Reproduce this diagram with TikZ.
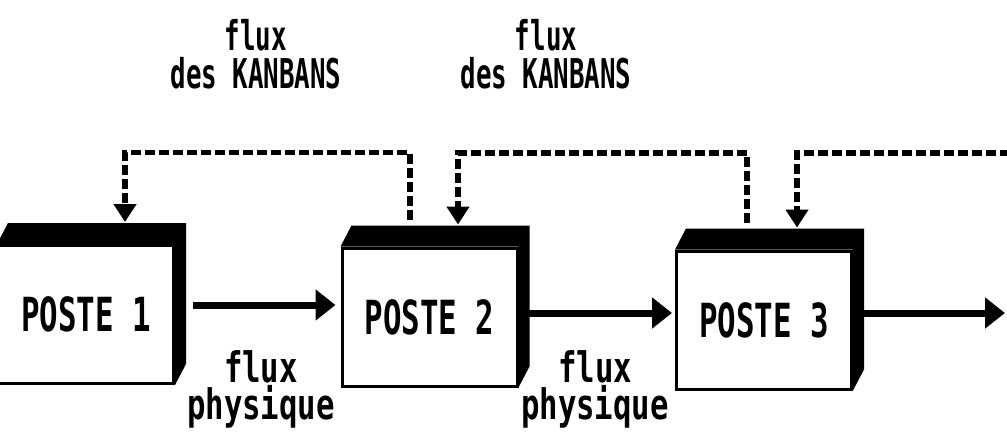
\documentclass[tikz,border=0pt]{standalone}
\usepackage{fontspec}
\newfontfamily\topfont{DejaVu Sans Mono}[FakeStretch=0.63]
\newfontfamily\botfont{DejaVu Sans Mono}[FakeStretch=0.73]
\newfontfamily\postefont{DejaVu Sans Mono}[FakeStretch=0.655]
\usetikzlibrary{arrows.meta,calc}
\begin{document}
\begin{tikzpicture}[x=1pt,y=-1pt,
  poste/.style={draw,line width=3pt,minimum width=175pt,minimum height=138pt,inner sep=0pt,
    font=\postefont\bfseries\fontsize{47}{47}\selectfont},
  flow/.style={line width=7pt,-{Triangle[length=20pt,width=30pt]}},
  kanban/.style={line width=5.5pt,dash pattern=on 10pt off 4pt,-{Triangle[length=18pt,width=22pt]}},
  lbltop/.style={font=\topfont\bfseries\fontsize{41}{38}\selectfont,align=center,inner sep=0pt,anchor=north},
  lblbot/.style={font=\botfont\bfseries\fontsize{42}{37}\selectfont,align=center,inner sep=0pt,anchor=north}
]
\useasboundingbox (0,0) rectangle (1007,442);
\clip (0,0) rectangle (1007,442);

% stations
\node[poste] (p1) at (86,314.5) {POSTE 1};
\node[poste] (p2) at (429.5,317) {POSTE 2};
\node[poste] (p3) at (764,320) {POSTE 3};
\foreach \p in {p1,p2,p3}
  \fill (\p.north west) -- ($(\p.north west)+(11,-21)$) -- ($(\p.north east)+(11,-21)$)
        -- ($(\p.south east)+(11,-21)$) -- (\p.south east) -- (\p.north east) -- cycle;

% physical flow
\coordinate (out3) at (1005,313);
\draw[flow] ($(p1.east)+(18,-9.5)$) -- ($(p2.west)+(-5,-12)$);
\draw[flow] ($(p2.east)+(10,-4)$) -- ($(p3.west)+(-3,-7)$);
\draw[flow] ($(p3.east)+(10,-7)$) -- (out3);

% kanban flow
\coordinate (in3) at (1010,153);
\draw[kanban] ($(p2.north)+(-19.5,-27)$) -- ++(0,-67) -| ($(p1.north)+(39,-22)$);
\draw[kanban] ($(p3.north)+(-17,-27)$) -- ++(0,-69.5) -| ($(p2.north)+(28.5,-22)$);
\draw[kanban] (in3) -| ($(p3.north)+(33,-22)$);

% labels
\node[lbltop] (k1) at (256,19) {flux\\des KANBANS};
\node[lbltop] (k2) at (546,19) {flux\\des KANBANS};
\node[lblbot] (f1) at (261,350) {flux\\physique};
\node[lblbot] (f2) at (595,350) {flux\\physique};
\end{tikzpicture}
\end{document}
